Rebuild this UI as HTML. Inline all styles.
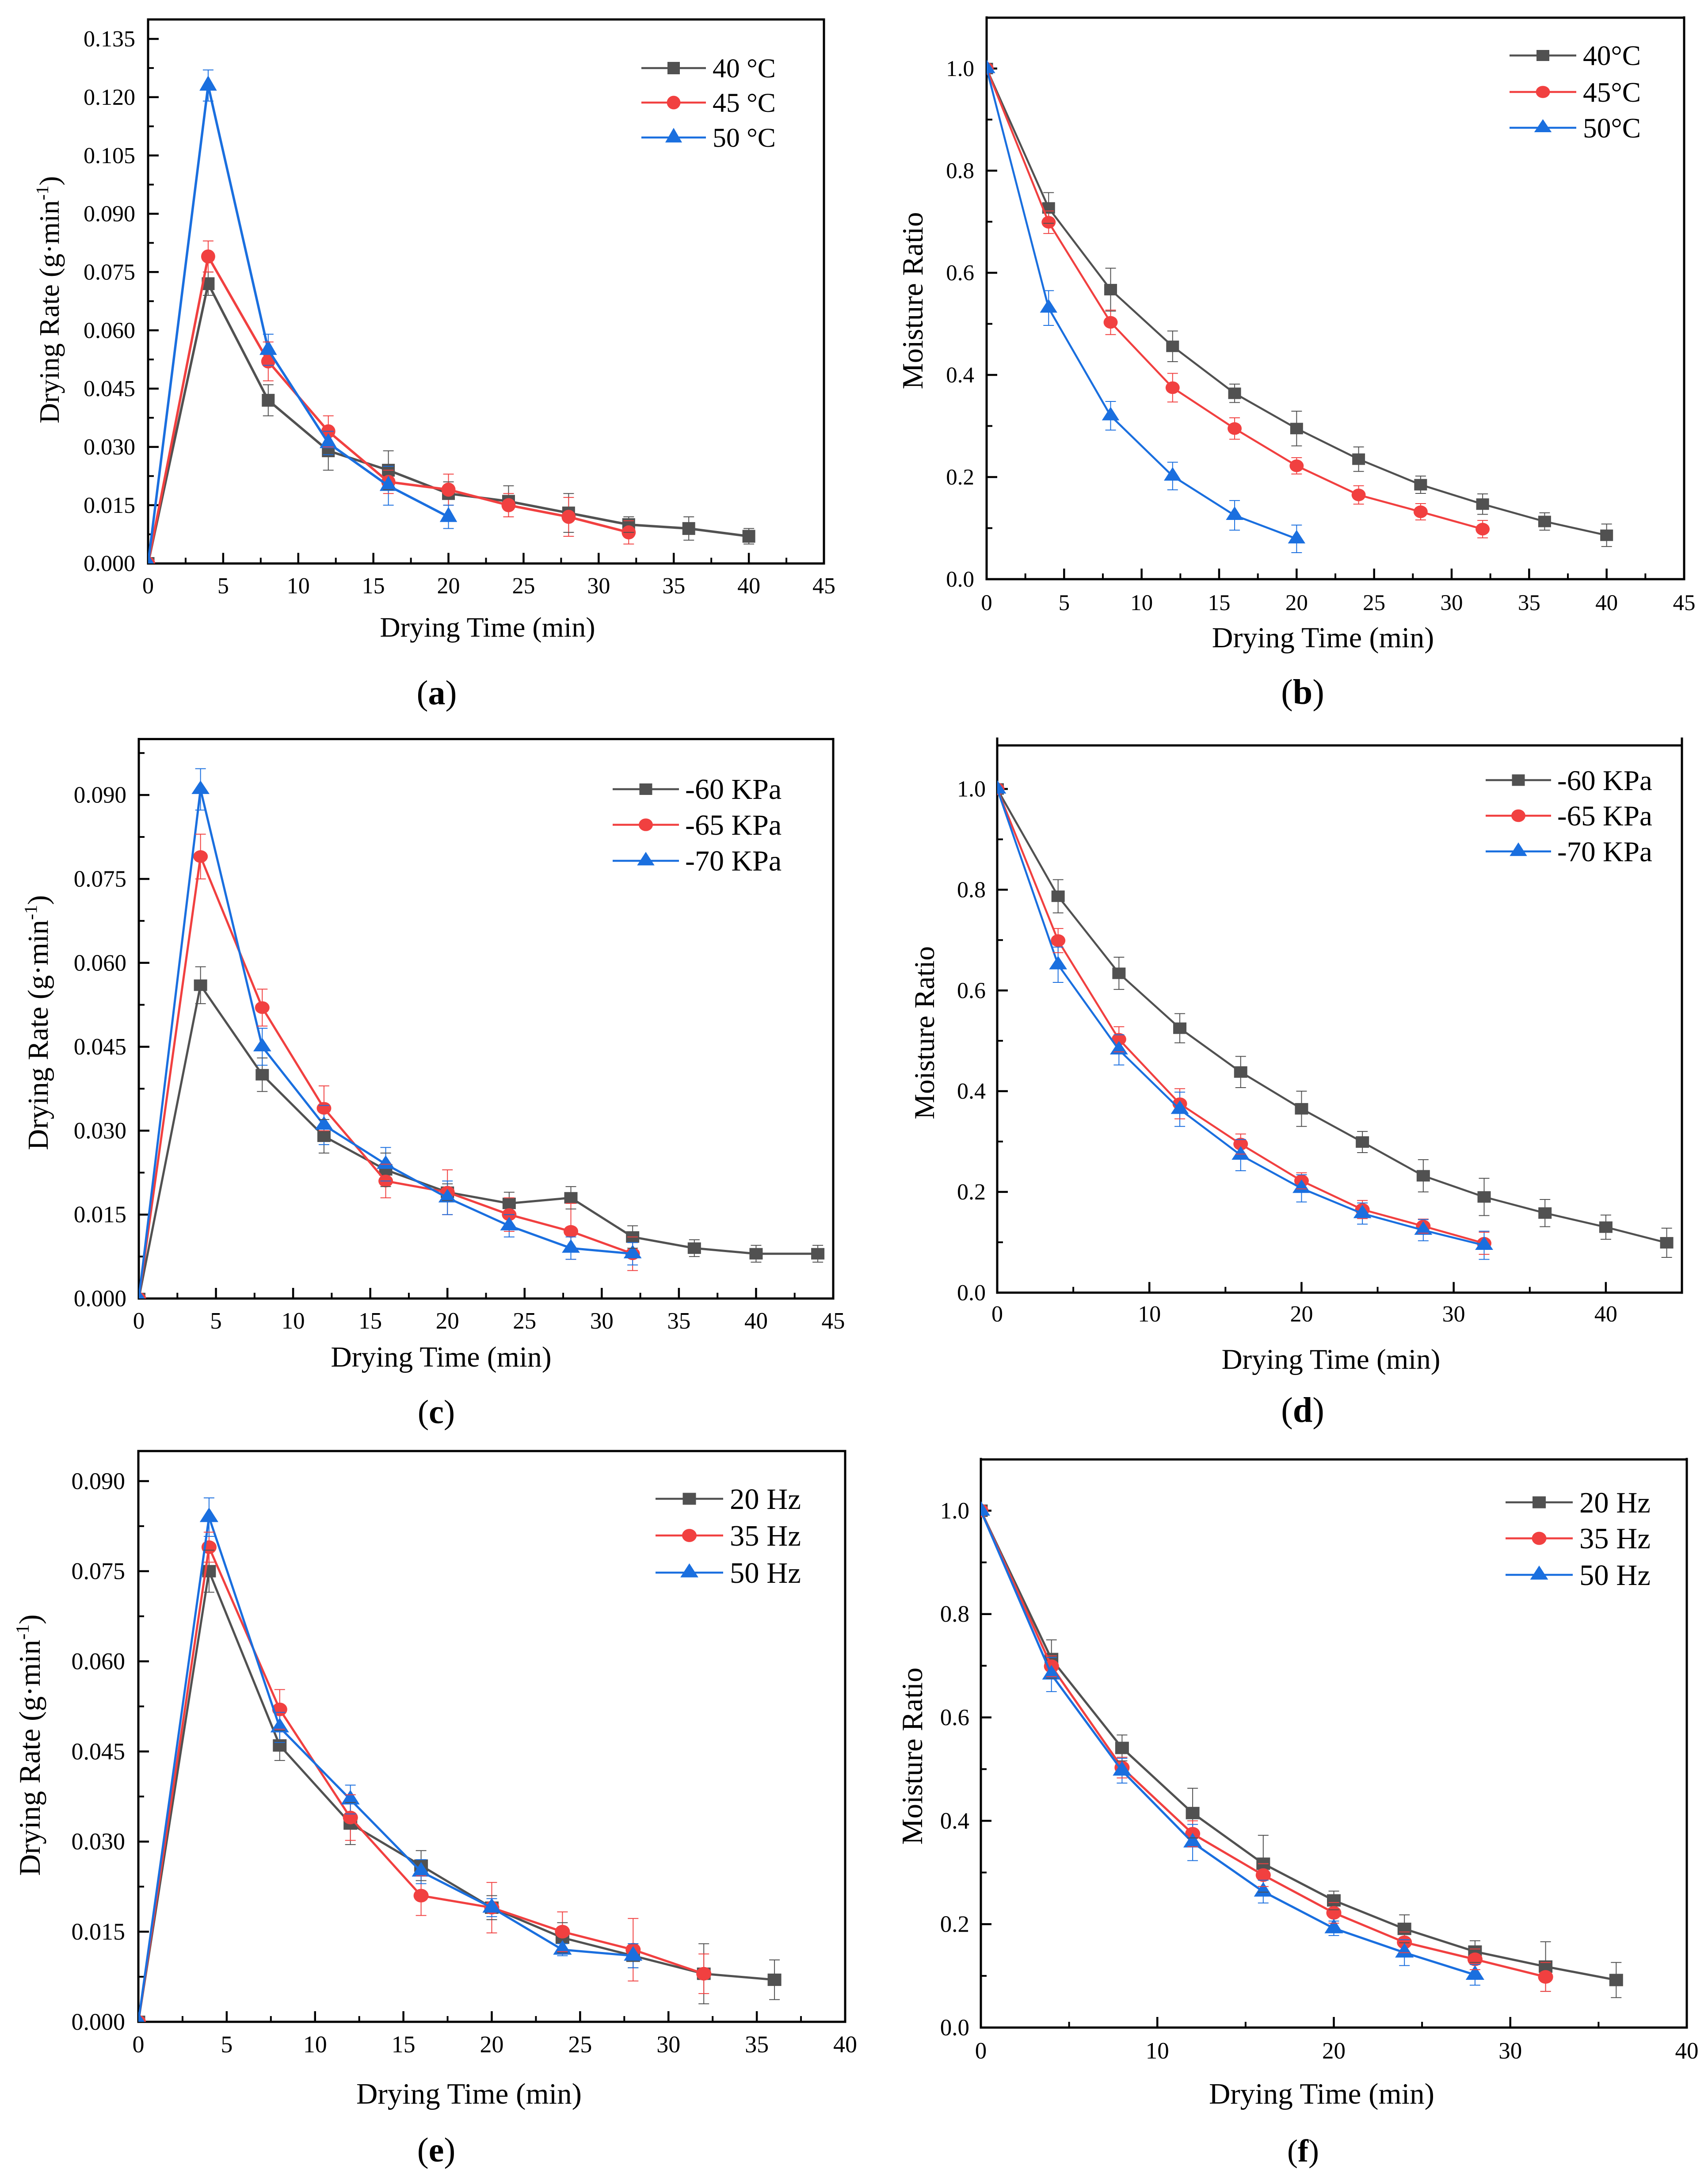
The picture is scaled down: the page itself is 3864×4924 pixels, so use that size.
<!DOCTYPE html>
<html lang="en">
<head>
<meta charset="utf-8">
<title>Drying rate and moisture ratio charts</title>
<style>
html,body{margin:0;padding:0;background:#fff;}
svg{display:block;}
text{font-family:"Liberation Serif",serif;fill:#000;}
</style>
</head>
<body>
<svg id="figure" xmlns="http://www.w3.org/2000/svg" width="3864" height="4924" viewBox="0 0 3864 4924">
<rect width="3864" height="4924" fill="#fff"/>

<g id="chart-a">
  <text transform="rotate(-90 133 678)" x="133" y="678" text-anchor="middle" font-size="64">Drying Rate (g·min<tspan font-size="40" dy="-24">-1</tspan><tspan dy="24">)</tspan></text>
  <text x="1103" y="1440" text-anchor="middle" font-size="64">Drying Time (min)</text>
  <text x="1612" y="175" font-size="61.7">40 °C</text>
  <text x="1612" y="253" font-size="61.7">45 °C</text>
  <text x="1612" y="332" font-size="61.7">50 °C</text>
  <text x="988" y="1593" text-anchor="middle" font-size="78">(<tspan font-weight="bold">a</tspan>)</text>
</g>

<g id="chart-b">
  <text transform="rotate(-90 2087 680)" x="2087" y="680" text-anchor="middle" font-size="66.5">Moisture Ratio</text>
  <text x="2993" y="1464" text-anchor="middle" font-size="66">Drying Time (min)</text>
  <text x="3581" y="147" font-size="63.4">40°C</text>
  <text x="3581" y="230" font-size="63.4">45°C</text>
  <text x="3581" y="311" font-size="63.4">50°C</text>
  <text x="2947" y="1592" text-anchor="middle" font-size="80">(<tspan font-weight="bold">b</tspan>)</text>
</g>

<g id="chart-c">
  <text transform="rotate(-90 108 2313)" x="108" y="2313" text-anchor="middle" font-size="66">Drying Rate (g·min<tspan font-size="41" dy="-25">-1</tspan><tspan dy="25">)</tspan></text>
  <text x="998" y="3091" text-anchor="middle" font-size="65.6">Drying Time (min)</text>
  <text x="1550" y="1807" font-size="66">-60 KPa</text>
  <text x="1550" y="1888" font-size="66">-65 KPa</text>
  <text x="1550" y="1969" font-size="66">-70 KPa</text>
  <text x="987" y="3219" text-anchor="middle" font-size="76">(<tspan font-weight="bold">c</tspan>)</text>
</g>

<g id="chart-d">
  <text transform="rotate(-90 2113 2336)" x="2113" y="2336" text-anchor="middle" font-size="65">Moisture Ratio</text>
  <text x="3011" y="3096" text-anchor="middle" font-size="65">Drying Time (min)</text>
  <text x="3523" y="1787" font-size="65">-60 KPa</text>
  <text x="3523" y="1867" font-size="65">-65 KPa</text>
  <text x="3523" y="1948" font-size="65">-70 KPa</text>
  <text x="2947" y="3216" text-anchor="middle" font-size="80">(<tspan font-weight="bold">d</tspan>)</text>
</g>

<g id="chart-e">
  <text transform="rotate(-90 90 3947)" x="90" y="3947" text-anchor="middle" font-size="67.7">Drying Rate (g·min<tspan font-size="42" dy="-25">-1</tspan><tspan dy="25">)</tspan></text>
  <text x="1061" y="4758" text-anchor="middle" font-size="67">Drying Time (min)</text>
  <text x="1651" y="3413" font-size="66.6">20 Hz</text>
  <text x="1651" y="3496" font-size="66.6">35 Hz</text>
  <text x="1651" y="3580" font-size="66.6">50 Hz</text>
  <text x="987" y="4889" text-anchor="middle" font-size="78">(<tspan font-weight="bold">e</tspan>)</text>
</g>

<g id="chart-f">
  <text transform="rotate(-90 2086 3972)" x="2086" y="3972" text-anchor="middle" font-size="66.5">Moisture Ratio</text>
  <text x="2990" y="4758" text-anchor="middle" font-size="67">Drying Time (min)</text>
  <text x="3573" y="3421" font-size="66.6">20 Hz</text>
  <text x="3573" y="3502" font-size="66.6">35 Hz</text>
  <text x="3573" y="3585" font-size="66.6">50 Hz</text>
  <text x="2948" y="4889" text-anchor="middle" font-size="72">(<tspan font-weight="bold">f</tspan>)</text>
</g>
</svg>

<script>
// ---------- chart a ----------
const aTime = [0,4,8,12,16,20,24,28,32,36,40];
const aXTicks = ['0','5','10','15','20','25','30','35','40','45'];
const aYTicks = ['0.000','0.015','0.030','0.045','0.060','0.075','0.090','0.105','0.120','0.135'];
const aRate40 = [0,0.072,0.042,0.029,0.024,0.018,0.016,0.013,0.010,0.009,0.007];
const aErr40  = [0,0.003,0.004,0.005,0.005,0.003,0.004,0.005,0.002,0.003,0.002];
const aRate45 = [0,0.079,0.052,0.034,0.021,0.019,0.015,0.012,0.008];
const aErr45  = [0,0.004,0.005,0.004,0.003,0.004,0.003,0.005,0.003];
const aRate50 = [0,0.123,0.055,0.031,0.020,0.012];
const aErr50  = [0,0.004,0.004,0.003,0.005,0.003];

// ---------- chart b ----------
const bTime = [0,4,8,12,16,20,24,28,32,36,40];
const bXTicks = ['0','5','10','15','20','25','30','35','40','45'];
const bYTicks = ['0.0','0.2','0.4','0.6','0.8','1.0'];
const bRatio40 = [1,0.727,0.567,0.456,0.364,0.295,0.235,0.185,0.147,0.113,0.086];
const bErr40   = [0,0.030,0.042,0.030,0.018,0.034,0.024,0.017,0.020,0.017,0.022];
const bRatio45 = [1,0.699,0.503,0.375,0.295,0.222,0.165,0.132,0.098];
const bErr45   = [0,0.022,0.024,0.028,0.021,0.016,0.018,0.016,0.017];
const bRatio50 = [1,0.531,0.320,0.202,0.125,0.079];
const bErr50   = [0,0.034,0.028,0.027,0.029,0.027];

// ---------- chart c ----------
const cTime = [0,4,8,12,16,20,24,28,32,36,40,44];
const cXTicks = ['0','5','10','15','20','25','30','35','40','45'];
const cYTicks = ['0.000','0.015','0.030','0.045','0.060','0.075','0.090'];
const cRate60 = [0,0.056,0.040,0.029,0.023,0.019,0.017,0.018,0.011,0.009,0.008,0.008];
const cErr60  = [0,0.0033,0.003,0.003,0.003,0.0015,0.002,0.002,0.002,0.0015,0.0015,0.0015];
const cRate65 = [0,0.079,0.052,0.034,0.021,0.019,0.015,0.012,0.008];
const cErr65  = [0,0.004,0.0033,0.004,0.003,0.004,0.003,0.005,0.003];
const cRate70 = [0,0.091,0.045,0.031,0.024,0.018,0.013,0.009,0.008];
const cErr70  = [0,0.0037,0.0033,0.0035,0.003,0.003,0.002,0.002,0.002];

// ---------- chart d ----------
const dTime = [0,4,8,12,16,20,24,28,32,36,40,44];
const dXTicks = ['0','10','20','30','40'];
const dYTicks = ['0.0','0.2','0.4','0.6','0.8','1.0'];
const dRatio60 = [1,0.787,0.634,0.525,0.438,0.365,0.299,0.232,0.190,0.158,0.130,0.099];
const dErr60   = [0,0.033,0.032,0.029,0.031,0.035,0.021,0.032,0.037,0.027,0.024,0.029];
const dRatio65 = [1,0.699,0.503,0.375,0.295,0.222,0.165,0.132,0.098];
const dErr65   = [0,0.024,0.025,0.030,0.020,0.016,0.018,0.014,0.022];
const dRatio70 = [1,0.651,0.482,0.364,0.273,0.207,0.157,0.124,0.094];
const dErr70   = [0,0.035,0.030,0.034,0.031,0.027,0.021,0.021,0.028];

// ---------- chart e ----------
const eTime = [0,4,8,12,16,20,24,28,32,36];
const eXTicks = ['0','5','10','15','20','25','30','35','40'];
const eYTicks = ['0.000','0.015','0.030','0.045','0.060','0.075','0.090'];
const eRate20 = [0,0.075,0.046,0.033,0.026,0.019,0.014,0.011,0.008,0.007];
const eErr20  = [0,0.0035,0.0025,0.0035,0.0025,0.002,0.0025,0.002,0.005,0.0033];
const eRate35 = [0,0.079,0.052,0.034,0.021,0.019,0.015,0.012,0.008];
const eErr35  = [0,0.0025,0.0033,0.0038,0.0033,0.0042,0.0033,0.0052,0.0033];
const eRate50 = [0,0.084,0.049,0.037,0.025,0.019,0.012,0.011];
const eErr50  = [0,0.0032,0.0025,0.0024,0.002,0.0015,0.001,0.002];

// ---------- chart f ----------
const fTime = [0,4,8,12,16,20,24,28,32,36];
const fXTicks = ['0','10','20','30','40'];
const fYTicks = ['0.0','0.2','0.4','0.6','0.8','1.0'];
const fRatio20 = [1,0.713,0.541,0.415,0.317,0.246,0.191,0.147,0.118,0.092];
const fErr20   = [0,0.037,0.025,0.048,0.055,0.018,0.027,0.021,0.048,0.034];
const fRatio35 = [1,0.699,0.503,0.375,0.295,0.222,0.165,0.132,0.098];
const fErr35   = [0,0.020,0.020,0.025,0.022,0.020,0.020,0.020,0.028];
const fRatio50 = [1,0.683,0.497,0.358,0.263,0.192,0.145,0.102];
const fErr50   = [0,0.033,0.024,0.035,0.022,0.014,0.025,0.020];

const seriesColors = ['#515151','#F14040','#1A6FDF'];
const SVGNS = 'http://www.w3.org/2000/svg';

function node(parent, tag, attrs) {
  const el = document.createElementNS(SVGNS, tag);
  for (const k in attrs) el.setAttribute(k, attrs[k]);
  parent.appendChild(el);
  return el;
}

function marker(parent, kind, cx, cy, w, h, color) {
  let el;
  if (kind === 0) {
    el = node(parent, 'rect', {x: cx - w / 2, y: cy - h / 2, width: w, height: h, fill: color});
    
    
  } else if (kind === 1) {
    el = node(parent, 'ellipse', {cx: cx, cy: cy, rx: w * 0.55, ry: h * 0.55, fill: color});
    
    
  } else {
    const hw = w * 0.68, up = h * 0.78, dn = h * 0.4;
    el = node(parent, 'polygon', {points: (cx - hw) + ',' + (cy + dn) + ' ' + (cx + hw) + ',' + (cy + dn) + ' ' + cx + ',' + (cy - up), fill: color});
    
    
  }
}

function drawChart(cfg) {
  const root = document.getElementById(cfg.id);
  const sx = function (v) { return cfg.left + (v / cfg.xMax) * (cfg.right - cfg.left); };
  const sy = function (v) { return cfg.bottom - (v / cfg.yMax) * (cfg.bottom - cfg.top); };

  // clip region for the plot
  const clipId = cfg.id + '-clip';
  const clip = node(root, 'clipPath', {id: clipId});
  node(clip, 'rect', {x: cfg.left, y: cfg.top, width: cfg.right - cfg.left, height: cfg.bottom - cfg.top});

  // frame
  const frame = node(root, 'g', {stroke: '#000', 'stroke-width': 5, fill: 'none', 'stroke-linecap': 'square'});
  
  
  node(frame, 'line', {x1: cfg.left, y1: cfg.top, x2: cfg.left, y2: cfg.bottom});
  node(frame, 'line', {x1: cfg.right, y1: cfg.top, x2: cfg.right, y2: cfg.bottom});
  node(frame, 'line', {x1: cfg.left, y1: cfg.bottom, x2: cfg.right, y2: cfg.bottom});
  node(frame, 'line', {x1: cfg.left, y1: cfg.topLine, x2: cfg.right, y2: cfg.topLine});

  // x axis
  const xAxis = node(root, 'g', {});
  
  
  cfg.xTicks.forEach(function (label, i) {
    const v = parseFloat(label), px = sx(v);
    const tick = node(xAxis, 'line', {x1: px, y1: cfg.bottom, x2: px, y2: cfg.bottom - 24, stroke: '#000', 'stroke-width': 4.5});
    
    
    const txt = node(xAxis, 'text', {x: px, y: cfg.xTickY, 'text-anchor': 'middle', 'font-size': cfg.tickFont});
    
    
    txt.textContent = label;
    const step = parseFloat(cfg.xTicks[1]) - parseFloat(cfg.xTicks[0]);
    const mv = v + step / 2;
    if (mv < cfg.xMax) {
      const minor = node(xAxis, 'line', {x1: sx(mv), y1: cfg.bottom, x2: sx(mv), y2: cfg.bottom - 13, stroke: '#000', 'stroke-width': 4});
      
      
    }
  });

  // y axis
  const yAxis = node(root, 'g', {});
  
  
  cfg.yTicks.forEach(function (label, i) {
    const v = parseFloat(label), py = sy(v);
    const tick = node(yAxis, 'line', {x1: cfg.left, y1: py, x2: cfg.left + 24, y2: py, stroke: '#000', 'stroke-width': 4.5});
    
    
    const txt = node(yAxis, 'text', {x: cfg.yTickX, y: py + cfg.tickFont * 0.33, 'text-anchor': 'end', 'font-size': cfg.tickFont});
    
    
    txt.textContent = label;
    const step = parseFloat(cfg.yTicks[1]) - parseFloat(cfg.yTicks[0]);
    const mv = v + step / 2;
    if (mv < cfg.yMax) {
      const minor = node(yAxis, 'line', {x1: cfg.left, y1: sy(mv), x2: cfg.left + 13, y2: sy(mv), stroke: '#000', 'stroke-width': 4});
      
      
    }
  });

  // series
  const plot = node(root, 'g', {'clip-path': 'url(#' + clipId + ')'});
  
  

  // error-bar stems go beneath the lines
  cfg.values.forEach(function (vals, s) {
    const color = seriesColors[s];
    vals.forEach(function (v, i) {
      const e = cfg.errors[s][i];
      if (!e) return;
      const px = sx(cfg.time[i]);
      const stem = node(plot, 'line', {x1: px, y1: sy(v + e), x2: px, y2: sy(v - e), stroke: color, 'stroke-width': 2});
      
      
    });
  });

  cfg.values.forEach(function (vals, s) {
    const color = seriesColors[s];
    const pts = vals.map(function (v, i) { return sx(cfg.time[i]) + ',' + sy(v); }).join(' ');
    const line = node(plot, 'polyline', {points: pts, fill: 'none', stroke: color, 'stroke-width': cfg.lineWidth, 'stroke-linejoin': 'round'});
    
    
    vals.forEach(function (v, i) {
      marker(plot, s, sx(cfg.time[i]), sy(v), cfg.mw, cfg.mh, color);
    });
  });

  // error-bar caps on top of markers
  cfg.values.forEach(function (vals, s) {
    const color = seriesColors[s];
    vals.forEach(function (v, i) {
      const e = cfg.errors[s][i];
      if (!e) return;
      const px = sx(cfg.time[i]);
      [v + e, v - e].forEach(function (end) {
        const cap = node(plot, 'line', {x1: px - 12, y1: sy(end), x2: px + 12, y2: sy(end), stroke: color, 'stroke-width': 2});
        
        
      });
    });
  });

  // legend symbols
  cfg.legendY.forEach(function (y, s) {
    const color = seriesColors[s];
    const g = node(root, 'g', {});
    
    
    const l = node(g, 'line', {x1: cfg.legendX1, y1: y, x2: cfg.legendX2, y2: y, stroke: color, 'stroke-width': 4.5});
    
    
    marker(g, s, (cfg.legendX1 + cfg.legendX2) / 2, y, cfg.legendMw, cfg.legendMh, color);
  });
}

drawChart({id:'chart-a', left:335, right:1864, top:44, topLine:44, bottom:1274.5, xMax:45, yMax:0.14,
  time:aTime, xTicks:aXTicks, yTicks:aYTicks, values:[aRate40,aRate45,aRate50], errors:[aErr40,aErr45,aErr50],
  tickFont:52, yTickX:306, xTickY:1342, lineWidth:5.5, mw:29, mh:29,
  legendX1:1451, legendX2:1597, legendY:[154,232,311], legendMw:28, legendMh:28});

drawChart({id:'chart-b', left:2232, right:3810, top:39.5, topLine:40, bottom:1310, xMax:45, yMax:1.1,
  time:bTime, xTicks:bXTicks, yTicks:bYTicks, values:[bRatio40,bRatio45,bRatio50], errors:[bErr40,bErr45,bErr50],
  tickFont:51, yTickX:2204, xTickY:1380, lineWidth:4.5, mw:29, mh:26,
  legendX1:3415, legendX2:3566, legendY:[125.5,208,289], legendMw:29, legendMh:25});

drawChart({id:'chart-c', left:314, right:1885, top:1671.6, topLine:1671.6, bottom:2937, xMax:45, yMax:0.1,
  time:cTime, xTicks:cXTicks, yTicks:cYTicks, values:[cRate60,cRate65,cRate70], errors:[cErr60,cErr65,cErr70],
  tickFont:53, yTickX:286, xTickY:3005, lineWidth:5, mw:30, mh:26,
  legendX1:1386, legendX2:1536, legendY:[1785,1865.5,1947], legendMw:29, legendMh:26});

drawChart({id:'chart-d', left:2256, right:3805, top:1670.6, topLine:1686, bottom:2923.7, xMax:45, yMax:1.1,
  time:dTime, xTicks:dXTicks, yTicks:dYTicks, values:[dRatio60,dRatio65,dRatio70], errors:[dErr60,dErr65,dErr70],
  tickFont:52, yTickX:2230, xTickY:2989, lineWidth:4.5, mw:30, mh:26,
  legendX1:3361, legendX2:3509, legendY:[1764.5,1845,1925.7], legendMw:29, legendMh:26});

drawChart({id:'chart-e', left:313, right:1912, top:3282, topLine:3282, bottom:4573, xMax:40, yMax:0.095,
  time:eTime, xTicks:eXTicks, yTicks:eYTicks, values:[eRate20,eRate35,eRate50], errors:[eErr20,eErr35,eErr50],
  tickFont:54, yTickX:283, xTickY:4642, lineWidth:5, mw:31, mh:28,
  legendX1:1483, legendX2:1636, legendY:[3390,3473,3557], legendMw:30, legendMh:27});

drawChart({id:'chart-f', left:2219, right:3816, top:3300, topLine:3301, bottom:4586, xMax:40, yMax:1.1,
  time:fTime, xTicks:fXTicks, yTicks:fYTicks, values:[fRatio20,fRatio35,fRatio50], errors:[fErr20,fErr35,fErr50],
  tickFont:53, yTickX:2193, xTickY:4656, lineWidth:5, mw:31, mh:28,
  legendX1:3406, legendX2:3558, legendY:[3398,3479.5,3562], legendMw:30, legendMh:27});
</script>
</body>
</html>
